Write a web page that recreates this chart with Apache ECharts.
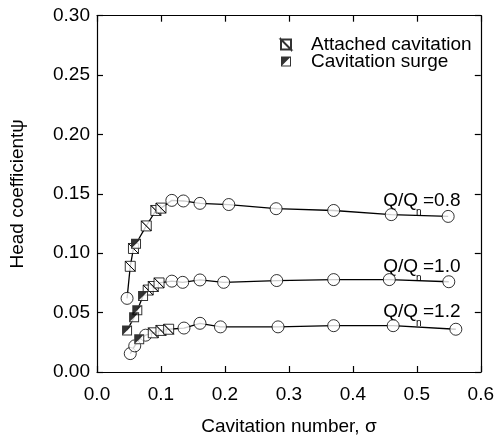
<!DOCTYPE html>
<html><head><meta charset="utf-8">
<script src="https://cdn.jsdelivr.net/npm/echarts@6/dist/echarts.min.js"></script>
<style>html,body{margin:0;padding:0;background:#fff}#c{width:497px;height:441px}</style>
</head><body><div id="c"></div>
<script>
// point types: c = plain (circle), a = attached cavitation, s = cavitation surge
const q08Sigma = [0.047, 0.052, 0.057, 0.061, 0.077, 0.092, 0.100, 0.117, 0.135, 0.161, 0.206, 0.280, 0.370, 0.460, 0.549];
const q08Psi   = [0.062, 0.089, 0.104, 0.108, 0.123, 0.136, 0.138, 0.1445, 0.144, 0.142, 0.141, 0.1375, 0.136, 0.1325, 0.131];
const q08Type  = ['c', 'a', 'a', 's', 'a', 'a', 'a', 'c', 'c', 'c', 'c', 'c', 'c', 'c', 'c'];

const q10Sigma = [0.047, 0.058, 0.063, 0.072, 0.080, 0.088, 0.097, 0.117, 0.134, 0.161, 0.198, 0.281, 0.370, 0.457, 0.550];
const q10Psi   = [0.035, 0.046, 0.052, 0.064, 0.069, 0.072, 0.075, 0.0765, 0.0755, 0.0775, 0.0755, 0.077, 0.0778, 0.0778, 0.076];
const q10Type  = ['s', 's', 's', 's', 'a', 'a', 'a', 'c', 'c', 'c', 'c', 'c', 'c', 'c', 'c'];

const q12Sigma = [0.052, 0.059, 0.066, 0.076, 0.088, 0.100, 0.112, 0.136, 0.161, 0.193, 0.283, 0.370, 0.463, 0.561];
const q12Psi   = [0.0155, 0.022, 0.0275, 0.031, 0.033, 0.035, 0.036, 0.037, 0.041, 0.038, 0.038, 0.039, 0.039, 0.036];
const q12Type  = ['c', 'c', 's', 'c', 'a', 'a', 'a', 'c', 'c', 'c', 'c', 'c', 'c', 'c'];

const xTicks = [0.0, 0.1, 0.2, 0.3, 0.4, 0.5, 0.6];
const yTicks = [0.00, 0.05, 0.10, 0.15, 0.20, 0.25, 0.30];
const flowLabels = ['0.8', '1.0', '1.2'];
const legendNames = ['Attached cavitation', 'Cavitation surge'];
const xTitle = 'Cavitation number, σ';
const yTitle = 'Head coefficientψ';

const FONT = '"Liberation Sans", Arial, Helvetica, sans-serif';
const curves = [[q08Sigma, q08Psi, q08Type], [q10Sigma, q10Psi, q10Type], [q12Sigma, q12Psi, q12Type]];

function pick(c, t) {
  const out = [];
  c[0].forEach((s, i) => { if (c[2][i] === t) out.push([s, c[1][i]]); });
  return out;
}
function all(t) { return [].concat(...curves.map(c => pick(c, t))); }

const ATT = 'path://M0,0L10,0L10,10ZM0,0L10,10L0,10Z';
const SURGE = 'path://M0,0L10,0L0,10ZM9,0L10,0L10,10L9,10ZM0,9L10,9L10,10L0,10Z';

const series = [];
curves.forEach((c, k) => {
  series.push({
    type: 'line', name: 'curve' + k, data: c[0].map((s, i) => [s, c[1][i]]),
    showSymbol: false, symbol: 'none', lineStyle: { color: '#000', width: 1.3 }, z: 2, silent: true, animation: false
  });
});
series.push({
  type: 'scatter', name: 'points', data: all('c'), symbol: 'circle', symbolSize: 12,
  itemStyle: { color: '#fff', borderColor: '#000', borderWidth: 1 }, z: 3, animation: false
});
series.push({
  type: 'scatter', name: legendNames[0], data: all('a'), symbol: ATT, symbolSize: 10,
  itemStyle: { color: '#fff', borderColor: '#000', borderWidth: 1 }, z: 4, animation: false
});
series.push({
  type: 'scatter', name: 'surgebg', data: all('s'), symbol: 'rect', symbolSize: 10,
  itemStyle: { color: '#fff' }, z: 5, animation: false
});
series.push({
  type: 'scatter', name: legendNames[1], data: all('s'), symbol: SURGE, symbolSize: 10,
  itemStyle: { color: '#000' }, z: 6, animation: false
});

const axisCommon = {
  axisLine: { show: true, onZero: false, lineStyle: { color: '#000', width: 1.2 } },
  axisTick: { show: true, inside: true, length: 6, lineStyle: { color: '#000', width: 1.2 } },
  splitLine: { show: false }
};

const chart = echarts.init(document.getElementById('c'), null, { renderer: 'canvas' });

// annotation placement (pixels)
const annBase = [206, 272, 317];
const graphics = [];
flowLabels.forEach((f, i) => {
  const b = annBase[i];
  graphics.push({ type: 'text', style: { text: 'Q/Q', x: 418, y: b + 4, textAlign: 'right', textVerticalAlign: 'bottom', font: '19px ' + FONT, fill: '#000' } });
  graphics.push({ type: 'text', style: { text: 'n', x: 416, y: b + 11, textAlign: 'left', textVerticalAlign: 'bottom', font: '10px ' + FONT, fill: '#000' } });
  graphics.push({ type: 'text', style: { text: '=' + f, x: 423, y: b + 4, textAlign: 'left', textVerticalAlign: 'bottom', font: '19px ' + FONT, fill: '#000' } });
});

chart.setOption({
  backgroundColor: '#fff',
  animation: false,
  grid: { left: 96.5, right: 14, top: 15.7, bottom: 65.3, containLabel: false },
  legend: {
    data: legendNames, orient: 'vertical', left: 275, top: 30,
    itemWidth: 40, itemHeight: 10, itemGap: -2, selectedMode: false,
    textStyle: { fontSize: 19, fontFamily: FONT, color: '#000' }
  },
  xAxis: [
    Object.assign({
      type: 'value', min: xTicks[0], max: xTicks[xTicks.length - 1], interval: 0.1, position: 'bottom',
      name: xTitle, nameLocation: 'middle', nameGap: 45,
      nameTextStyle: { fontSize: 19, fontFamily: FONT, color: '#000' },
      axisLabel: { fontSize: 19, fontFamily: FONT, color: '#000', margin: 13, formatter: v => v.toFixed(1) }
    }, axisCommon),
    Object.assign({
      type: 'value', min: xTicks[0], max: xTicks[xTicks.length - 1], interval: 0.1, position: 'top',
      axisLabel: { show: false }
    }, axisCommon)
  ],
  yAxis: [
    Object.assign({
      type: 'value', min: yTicks[0], max: yTicks[yTicks.length - 1], interval: 0.05, position: 'left',
      name: yTitle, nameLocation: 'middle', nameGap: 70,
      nameTextStyle: { fontSize: 19, fontFamily: FONT, color: '#000' },
      axisLabel: { fontSize: 19, fontFamily: FONT, color: '#000', margin: 7, formatter: v => v.toFixed(2) }
    }, axisCommon),
    Object.assign({
      type: 'value', min: yTicks[0], max: yTicks[yTicks.length - 1], interval: 0.05, position: 'right',
      axisLabel: { show: false }
    }, axisCommon)
  ],
  graphic: graphics,
  series: series
});
</script>
</body></html>
